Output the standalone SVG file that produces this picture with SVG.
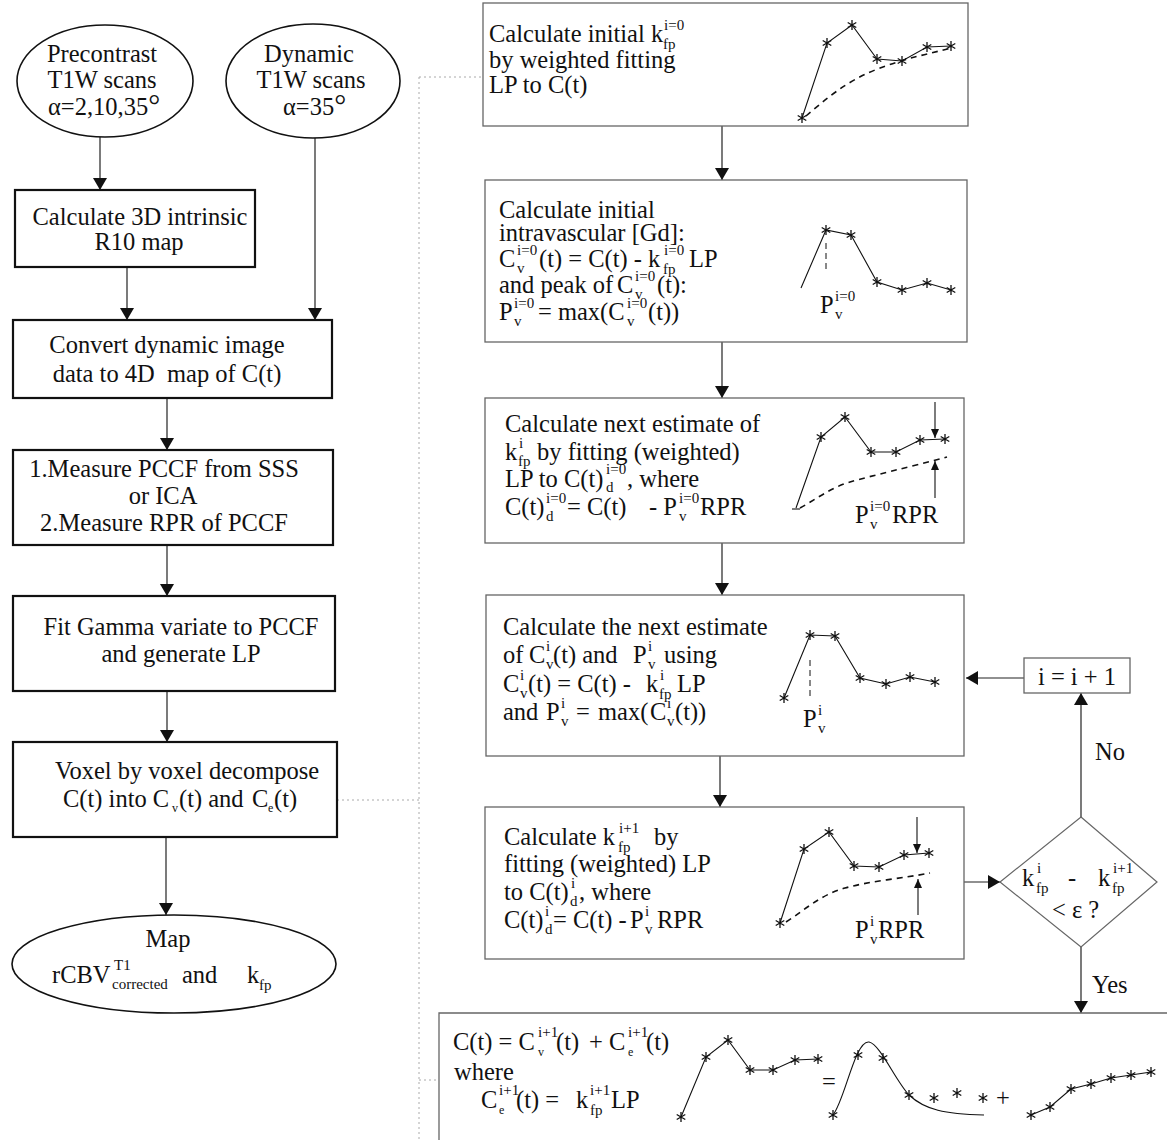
<svg xmlns="http://www.w3.org/2000/svg" xmlns:xlink="http://www.w3.org/1999/xlink" width="1167" height="1140" viewBox="0 0 1167 1140">
<style>
.t{font-family:"Liberation Serif","Times New Roman",serif;font-size:24.5px;fill:#111}
.s{font-size:15px}
.ss{font-size:12px}
.m{text-anchor:middle}
.box{fill:#fff;stroke:#111;stroke-width:2.2}
.rbox{fill:#fff;stroke:#666;stroke-width:1.3}
.ell{fill:#fff;stroke:#111;stroke-width:1.6}
.con{stroke:#222;stroke-width:1.2;fill:none}
.dot{stroke:#aaa;stroke-width:1;stroke-dasharray:2 3;fill:none}
.pl{stroke:#111;stroke-width:1.1;fill:none}
.ds{stroke:#111;stroke-width:1.6;stroke-dasharray:6 5;fill:none}
.vd{stroke:#111;stroke-width:1;stroke-dasharray:6 4;fill:none}
</style>
<defs>
<marker id="ah" markerWidth="12" markerHeight="14" refX="12" refY="7" orient="auto" markerUnits="userSpaceOnUse"><path d="M0,0 L12,7 L0,14 z" fill="#111"/></marker>
<marker id="sa" markerWidth="9" markerHeight="8" refX="9" refY="4" orient="auto" markerUnits="userSpaceOnUse"><path d="M0,0 L9,4 L0,8 z" fill="#111"/></marker>
<g id="st"><path d="M0,-5 V5 M-4.3,-2.5 L4.3,2.5 M-4.3,2.5 L4.3,-2.5" stroke="#111" stroke-width="1.3"/></g>
</defs>
<rect width="1167" height="1140" fill="#fff"/>

<g id="connectors">
<path class="dot" d="M337,800 H419 M419,77 V1140 M419,77 H483 M419,1080 H439"/>
<line class="con" x1="100" y1="137" x2="100" y2="190" marker-end="url(#ah)"/>
<line class="con" x1="127" y1="267" x2="127" y2="320" marker-end="url(#ah)"/>
<line class="con" x1="315" y1="138" x2="315" y2="320" stroke="#777" marker-end="url(#ah)"/>
<line class="con" x1="167" y1="398" x2="167" y2="450" marker-end="url(#ah)"/>
<line class="con" x1="167" y1="545" x2="167" y2="596" marker-end="url(#ah)"/>
<line class="con" x1="167" y1="691" x2="167" y2="742" marker-end="url(#ah)"/>
<line class="con" x1="166" y1="837" x2="166" y2="915" marker-end="url(#ah)"/>
<line class="con" x1="722" y1="126" x2="722" y2="180" stroke="#888" marker-end="url(#ah)"/>
<line class="con" x1="722" y1="342" x2="722" y2="398" stroke="#888" marker-end="url(#ah)"/>
<line class="con" x1="722" y1="543" x2="722" y2="595" marker-end="url(#ah)"/>
<line class="con" x1="720" y1="756" x2="720" y2="807" marker-end="url(#ah)"/>
<line class="con" x1="964" y1="882" x2="1000" y2="882" marker-end="url(#ah)"/>
<line class="con" x1="1081" y1="817" x2="1081" y2="693" stroke="#777" marker-end="url(#ah)"/>
<line class="con" x1="1024" y1="678" x2="966" y2="678" marker-end="url(#ah)"/>
<line class="con" x1="1081" y1="947" x2="1081" y2="1013" marker-end="url(#ah)"/>
</g>

<g id="precontrast">
<ellipse class="ell" cx="105" cy="81" rx="88" ry="56"/>
<text class="t m" x="102" y="62">Precontrast</text>
<text class="t m" x="102" y="88">T1W scans</text>
<text class="t" x="48" y="115">α=2,10,35<tspan font-size="30">°</tspan></text>
</g>
<g id="dynamic">
<ellipse class="ell" cx="313" cy="81" rx="87" ry="57"/>
<text class="t m" x="309" y="62">Dynamic</text>
<text class="t m" x="311" y="88">T1W scans</text>
<text class="t" x="283" y="115">α=35<tspan font-size="30">°</tspan></text>
</g>
<g id="r10">
<rect class="box" x="15" y="190" width="240" height="77"/>
<text class="t m" x="140" y="225">Calculate 3D intrinsic</text>
<text class="t m" x="139" y="250">R10 map</text>
</g>
<g id="convert">
<rect class="box" x="13" y="320" width="319" height="78"/>
<text class="t m" x="167" y="353">Convert dynamic image</text>
<text class="t m" x="167" y="382" xml:space="preserve">data to 4D  map of C(t)</text>
</g>
<g id="measure">
<rect class="box" x="13" y="450" width="320" height="95"/>
<text class="t m" x="164" y="477">1.Measure PCCF from SSS</text>
<text class="t m" x="163" y="504">or ICA</text>
<text class="t m" x="164" y="531">2.Measure RPR of PCCF</text>
</g>
<g id="fitgamma">
<rect class="box" x="13" y="596" width="322" height="95"/>
<text class="t m" x="181" y="635">Fit Gamma variate to PCCF</text>
<text class="t m" x="181" y="662">and generate LP</text>
</g>
<g id="voxel">
<rect class="box" x="13" y="742" width="324" height="95"/>
<text class="t m" x="187" y="779">Voxel by voxel decompose</text>
<text class="t"><tspan x="63" y="807">C(t) into C</tspan><tspan class="ss" x="172" y="812">v</tspan><tspan x="179" y="807">(t) and</tspan><tspan x="252" y="807">C</tspan><tspan class="ss" x="268" y="812">e</tspan><tspan x="274" y="807">(t)</tspan></text>
</g>
<g id="map">
<ellipse class="ell" cx="174" cy="964" rx="162" ry="49"/>
<text class="t m" x="168" y="947">Map</text>
<text class="t"><tspan x="52" y="983">rCBV</tspan><tspan class="s" x="114" y="970">T1</tspan><tspan class="s" x="112" y="989">corrected</tspan><tspan x="182" y="983">and</tspan><tspan x="247" y="983">k</tspan><tspan class="s" x="259" y="990">fp</tspan></text>
</g>

<g id="initk">
<rect class="rbox" x="483" y="3" width="485" height="123"/>
<text class="t"><tspan x="489" y="42">Calculate initial k</tspan><tspan class="s" x="664" y="30">i=0</tspan><tspan class="s" x="663" y="49">fp</tspan></text>
<text class="t" x="489" y="68">by weighted fitting</text>
<text class="t" x="489" y="93">LP to C(t)</text>
<polyline class="pl" points="802,118 827,43 852,25 877,59 902,61 927,47 951,46"/>
<path class="ds" d="M806,116 C825,100 845,82 875,70 S925,55 951,48"/>
<use xlink:href="#st" x="802" y="118"/><use xlink:href="#st" x="827" y="43"/><use xlink:href="#st" x="852" y="25"/><use xlink:href="#st" x="877" y="59"/><use xlink:href="#st" x="902" y="61"/><use xlink:href="#st" x="927" y="47"/><use xlink:href="#st" x="951" y="46"/>
</g>

<g id="initcv">
<rect class="rbox" x="485" y="180" width="482" height="162"/>
<text class="t" x="499" y="218">Calculate initial</text>
<text class="t" x="499" y="241">intravascular [Gd]:</text>
<text class="t"><tspan x="499" y="267">C</tspan><tspan class="s" x="517" y="255">i=0</tspan><tspan class="s" x="517" y="273">v</tspan><tspan x="539" y="267">(t) = C(t) - k</tspan><tspan class="s" x="664" y="255">i=0</tspan><tspan class="s" x="663" y="274">fp</tspan><tspan x="689" y="267">LP</tspan></text>
<text class="t"><tspan x="499" y="293">and peak of</tspan><tspan x="617" y="293">C</tspan><tspan class="s" x="635" y="281">i=0</tspan><tspan class="s" x="635" y="299">v</tspan><tspan x="657" y="293">(t):</tspan></text>
<text class="t"><tspan x="499" y="320">P</tspan><tspan class="s" x="514" y="308">i=0</tspan><tspan class="s" x="514" y="326">v</tspan><tspan x="538" y="320">= max(C</tspan><tspan class="s" x="627" y="308">i=0</tspan><tspan class="s" x="627" y="326">v</tspan><tspan x="648" y="320">(t))</tspan></text>
<polyline class="pl" points="801,288 826,230 851,235 877,282 902,290 927,283 951,290"/>
<line class="vd" x1="826" y1="243" x2="826" y2="272"/>
<use xlink:href="#st" x="826" y="230"/><use xlink:href="#st" x="851" y="235"/><use xlink:href="#st" x="877" y="282"/><use xlink:href="#st" x="902" y="290"/><use xlink:href="#st" x="927" y="283"/><use xlink:href="#st" x="951" y="290"/>
<text class="t"><tspan x="820" y="313">P</tspan><tspan class="s" x="835" y="301">i=0</tspan><tspan class="s" x="835" y="319">v</tspan></text>
</g>

<g id="nextk">
<rect class="rbox" x="485" y="398" width="479" height="145"/>
<text class="t" x="505" y="432">Calculate next estimate of</text>
<text class="t"><tspan x="505" y="460">k</tspan><tspan class="s" x="519" y="448">i</tspan><tspan class="s" x="518" y="466">fp</tspan><tspan x="537" y="460">by fitting (weighted)</tspan></text>
<text class="t"><tspan x="505" y="487">LP to C(t)</tspan><tspan class="s" x="606" y="474">i=0</tspan><tspan class="s" x="606" y="492">d</tspan><tspan x="627" y="487">, where</tspan></text>
<text class="t"><tspan x="505" y="515">C(t)</tspan><tspan class="s" x="546" y="503">i=0</tspan><tspan class="s" x="546" y="521">d</tspan><tspan x="567" y="515">= C(t)</tspan><tspan x="649" y="515">- P</tspan><tspan class="s" x="679" y="503">i=0</tspan><tspan class="s" x="679" y="521">v</tspan><tspan x="700" y="515">RPR</tspan></text>
<polyline class="pl" points="796,508 821,437 845,417 871,452 896,452 920,440 945,439"/>
<line class="pl" x1="792" y1="509" x2="800" y2="509"/>
<path class="ds" d="M800,508 C815,500 830,488 850,482 S910,467 947,457"/>
<line class="pl" x1="935" y1="402" x2="935" y2="438" marker-end="url(#sa)"/>
<line class="pl" x1="935" y1="498" x2="935" y2="461" marker-end="url(#sa)"/>
<use xlink:href="#st" x="821" y="437"/><use xlink:href="#st" x="845" y="417"/><use xlink:href="#st" x="871" y="452"/><use xlink:href="#st" x="896" y="452"/><use xlink:href="#st" x="920" y="440"/><use xlink:href="#st" x="945" y="439"/>
<text class="t"><tspan x="855" y="523">P</tspan><tspan class="s" x="870" y="511">i=0</tspan><tspan class="s" x="870" y="529">v</tspan><tspan x="892" y="523">RPR</tspan></text>
</g>

<g id="nextcv">
<rect class="rbox" x="486" y="595" width="478" height="161"/>
<text class="t" x="503" y="635">Calculate the next estimate</text>
<text class="t"><tspan x="503" y="663">of</tspan><tspan x="529" y="663">C</tspan><tspan class="s" x="546" y="651">i</tspan><tspan class="s" x="546" y="669">v</tspan><tspan x="553" y="663">(t) and</tspan><tspan x="633" y="663">P</tspan><tspan class="s" x="648" y="651">i</tspan><tspan class="s" x="648" y="669">v</tspan><tspan x="664" y="663">using</tspan></text>
<text class="t"><tspan x="503" y="692">C</tspan><tspan class="s" x="520" y="680">i</tspan><tspan class="s" x="520" y="698">v</tspan><tspan x="528" y="692">(t) = C(t) -</tspan><tspan x="646" y="692">k</tspan><tspan class="s" x="660" y="680">i</tspan><tspan class="s" x="659" y="699">fp</tspan><tspan x="677" y="692">LP</tspan></text>
<text class="t"><tspan x="503" y="720">and</tspan><tspan x="546" y="720">P</tspan><tspan class="s" x="561" y="708">i</tspan><tspan class="s" x="561" y="726">v</tspan><tspan x="576" y="720">=</tspan><tspan x="598" y="720">max(</tspan><tspan x="650" y="720">C</tspan><tspan class="s" x="667" y="708">i</tspan><tspan class="s" x="667" y="726">v</tspan><tspan x="675" y="720">(t))</tspan></text>
<polyline class="pl" points="784,698 810,635 835,636 860,678 886,684 910,677 935,682"/>
<line class="vd" x1="810" y1="660" x2="810" y2="700"/>
<use xlink:href="#st" x="784" y="698"/><use xlink:href="#st" x="810" y="635"/><use xlink:href="#st" x="835" y="636"/><use xlink:href="#st" x="860" y="678"/><use xlink:href="#st" x="886" y="684"/><use xlink:href="#st" x="910" y="677"/><use xlink:href="#st" x="935" y="682"/>
<text class="t"><tspan x="803" y="727">P</tspan><tspan class="s" x="818" y="715">i</tspan><tspan class="s" x="818" y="733">v</tspan></text>
</g>

<g id="calck">
<rect class="rbox" x="485" y="807" width="479" height="152"/>
<text class="t"><tspan x="504" y="845">Calculate k</tspan><tspan class="s" x="619" y="833">i+1</tspan><tspan class="s" x="618" y="852">fp</tspan><tspan x="654" y="845">by</tspan></text>
<text class="t" x="504" y="872">fitting (weighted) LP</text>
<text class="t"><tspan x="504" y="900">to C(t)</tspan><tspan class="s" x="571" y="888">i</tspan><tspan class="s" x="570" y="906">d</tspan><tspan x="579" y="900">, where</tspan></text>
<text class="t"><tspan x="504" y="928">C(t)</tspan><tspan class="s" x="545" y="916">i</tspan><tspan class="s" x="545" y="934">d</tspan><tspan x="553" y="928">= C(t) -</tspan><tspan x="630" y="928">P</tspan><tspan class="s" x="645" y="916">i</tspan><tspan class="s" x="645" y="934">v</tspan><tspan x="657" y="928">RPR</tspan></text>
<polyline class="pl" points="780,923 804,849 829,832 854,866 879,867 904,855 929,853"/>
<path class="ds" d="M786,922 C805,910 820,895 845,888 S905,878 930,873"/>
<line class="pl" x1="917" y1="817" x2="917" y2="853" marker-end="url(#sa)"/>
<line class="pl" x1="918" y1="915" x2="918" y2="879" marker-end="url(#sa)"/>
<use xlink:href="#st" x="780" y="923"/><use xlink:href="#st" x="804" y="849"/><use xlink:href="#st" x="829" y="832"/><use xlink:href="#st" x="854" y="866"/><use xlink:href="#st" x="879" y="867"/><use xlink:href="#st" x="904" y="855"/><use xlink:href="#st" x="929" y="853"/>
<text class="t"><tspan x="855" y="938">P</tspan><tspan class="s" x="870" y="926">i</tspan><tspan class="s" x="870" y="944">v</tspan><tspan x="878" y="938">RPR</tspan></text>
</g>

<g id="iplus">
<rect x="1024" y="658" width="106" height="35" fill="#fff" stroke="#666" stroke-width="1.3"/>
<text class="t m" x="1077" y="685" font-size="27">i = i + 1</text>
</g>
<text class="t" x="1095" y="760" font-size="26">No</text>

<g id="decision">
<polygon points="1081,817 1157,882 1081,947 1000,882" fill="#fff" stroke="#666" stroke-width="1.2"/>
<text class="t"><tspan x="1022" y="886">k</tspan><tspan class="s" x="1037" y="873">i</tspan><tspan class="s" x="1036" y="893">fp</tspan><tspan x="1068" y="886">-</tspan><tspan x="1098" y="886">k</tspan><tspan class="s" x="1113" y="873">i+1</tspan><tspan class="s" x="1112" y="893">fp</tspan></text>
<text class="t" x="1052" y="918">&lt; ε ?</text>
</g>
<text class="t" x="1092" y="993" font-size="26">Yes</text>

<g id="result">
<path d="M439,1140 V1013 H1167" fill="none" stroke="#666" stroke-width="1.3"/>
<text class="t" font-size="26"><tspan x="453" y="1050">C(t) = C</tspan><tspan class="s" x="538" y="1037">i+1</tspan><tspan class="ss" x="538" y="1056">v</tspan><tspan x="556" y="1050">(t)</tspan><tspan x="589" y="1050">+ C</tspan><tspan class="s" x="628" y="1037">i+1</tspan><tspan class="ss" x="628" y="1056">e</tspan><tspan x="646" y="1050">(t)</tspan></text>
<text class="t" x="454" y="1080" font-size="26">where</text>
<text class="t" font-size="26"><tspan x="481" y="1108">C</tspan><tspan class="s" x="499" y="1095">i+1</tspan><tspan class="ss" x="499" y="1114">e</tspan><tspan x="516" y="1108">(t) =</tspan><tspan x="576" y="1108">k</tspan><tspan class="s" x="590" y="1095">i+1</tspan><tspan class="s" x="590" y="1115">fp</tspan><tspan x="611" y="1108">LP</tspan></text>
<polyline class="pl" points="681,1117 706,1057 728,1040 750,1070 773,1070 795,1060 818,1059"/>
<use xlink:href="#st" x="681" y="1117"/><use xlink:href="#st" x="706" y="1057"/><use xlink:href="#st" x="728" y="1040"/><use xlink:href="#st" x="750" y="1070"/><use xlink:href="#st" x="773" y="1070"/><use xlink:href="#st" x="795" y="1060"/><use xlink:href="#st" x="818" y="1059"/>
<text class="t" x="822" y="1090" font-size="20">=</text>
<path class="pl" d="M833,1115 C845,1100 855,1040 869,1042 C880,1044 895,1080 909,1095 C925,1110 945,1114 984,1115"/>
<use xlink:href="#st" x="833" y="1115"/><use xlink:href="#st" x="858" y="1055"/><use xlink:href="#st" x="883" y="1058"/><use xlink:href="#st" x="909" y="1095"/><use xlink:href="#st" x="934" y="1098"/><use xlink:href="#st" x="957" y="1093"/><use xlink:href="#st" x="983" y="1098"/>
<text class="t" x="996" y="1106" font-size="24">+</text>
<polyline class="pl" points="1031,1115 1050,1107 1071,1089 1091,1084 1111,1078 1131,1075 1151,1072"/>
<use xlink:href="#st" x="1031" y="1115"/><use xlink:href="#st" x="1050" y="1107"/><use xlink:href="#st" x="1071" y="1089"/><use xlink:href="#st" x="1091" y="1084"/><use xlink:href="#st" x="1111" y="1078"/><use xlink:href="#st" x="1131" y="1075"/><use xlink:href="#st" x="1151" y="1072"/>
</g>
</svg>
